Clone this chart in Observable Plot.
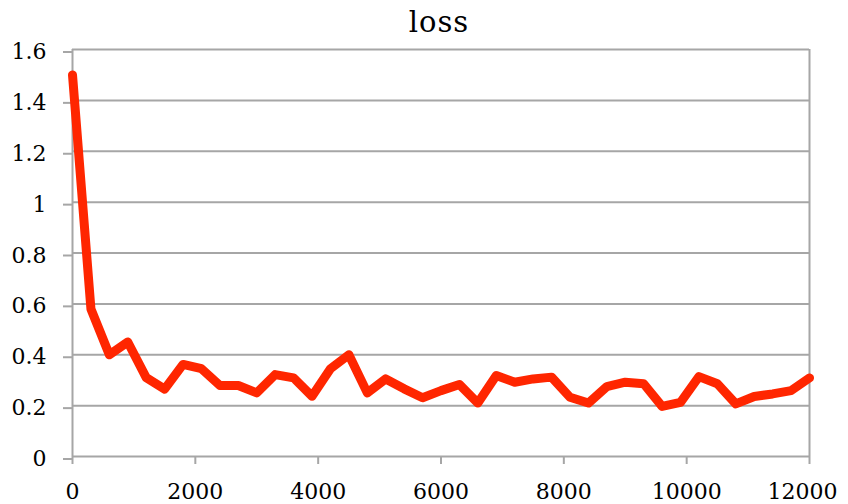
<!DOCTYPE html>
<html>
<head>
<meta charset="utf-8">
<script src="https://cdn.jsdelivr.net/npm/d3@7"></script>
<script src="https://cdn.jsdelivr.net/npm/@observablehq/plot@0.6"></script>
<style>
  body { margin: 0; background: #fff; }
  #title { width: 848px; box-sizing: border-box; padding-left: 30px; height: 40px; line-height: 44px;
           text-align: center; font-family: "DejaVu Serif", "Liberation Serif", "Times New Roman", Times, Georgia, serif;
           font-size: 29px; letter-spacing: 1px; color: #000; overflow: visible; }
  svg { display: block; }
</style>
</head>
<body>
<div id="title">loss</div>
<div id="chart"></div>
<script>
const steps = [0,300,600,900,1200,1500,1800,2100,2400,2700,3000,3300,3600,3900,4200,4500,4800,5100,5400,5700,6000,6300,6600,6900,7200,7500,7800,8100,8400,8700,9000,9300,9600,9900,10200,10500,10800,11100,11400,11700,12000];
const loss = [1.50,0.58,0.40,0.45,0.31,0.265,0.362,0.345,0.279,0.279,0.25,0.322,0.309,0.237,0.345,0.40,0.25,0.305,0.266,0.231,0.259,0.283,0.21,0.318,0.292,0.305,0.312,0.233,0.21,0.275,0.292,0.286,0.197,0.213,0.314,0.286,0.207,0.236,0.246,0.259,0.309];
const xTicks = [0,2000,4000,6000,8000,10000,12000];
const xLabelsMain = [0,2000,4000,6000,8000,10000];
const xLabelLast = [12000];
const yTicks = [0,0.2,0.4,0.6,0.8,1.0,1.2,1.4,1.6];

const data = steps.map((s, i) => ({step: s, loss: loss[i]}));
const grey = "#a6a6a6";

const chart = Plot.plot({
  width: 848,
  height: 464,
  marginTop: 9,
  marginBottom: 48,
  marginLeft: 72,
  marginRight: 39,
  style: {fontFamily: "'DejaVu Serif', 'Liberation Serif', 'Times New Roman', Times, Georgia, serif", fontSize: "22px", color: "#000", background: "#fff", overflow: "visible"},
  x: {domain: [0, 12000]},
  y: {domain: [0, 1.6]},
  marks: [
    Plot.gridY(yTicks, {stroke: grey, strokeOpacity: 1, strokeWidth: 2}),
    Plot.ruleX([0, 12000], {stroke: grey, strokeWidth: 2}),
    Plot.axisY(yTicks, {tickSize: 9, tickPadding: 17, stroke: grey, strokeWidth: 2, dy: 2.5,
      tickFormat: d => String(+d.toFixed(1)), label: null}),
    Plot.axisX(xTicks, {tickSize: 8, stroke: grey, strokeWidth: 2, text: null, label: null}),
    Plot.axisX(xLabelsMain, {tickSize: 0, tickPadding: 27,
      tickFormat: d => String(d), label: null}),
    Plot.axisX(xLabelLast, {tickSize: 0, tickPadding: 27, dx: -7,
      tickFormat: d => String(d), label: null}),
    Plot.line(data, {x: "step", y: "loss", stroke: "#ff2600", strokeWidth: 9, strokeLinejoin: "round", strokeLinecap: "round"})
  ]
});
document.getElementById("chart").appendChild(chart);
</script>
</body>
</html>
